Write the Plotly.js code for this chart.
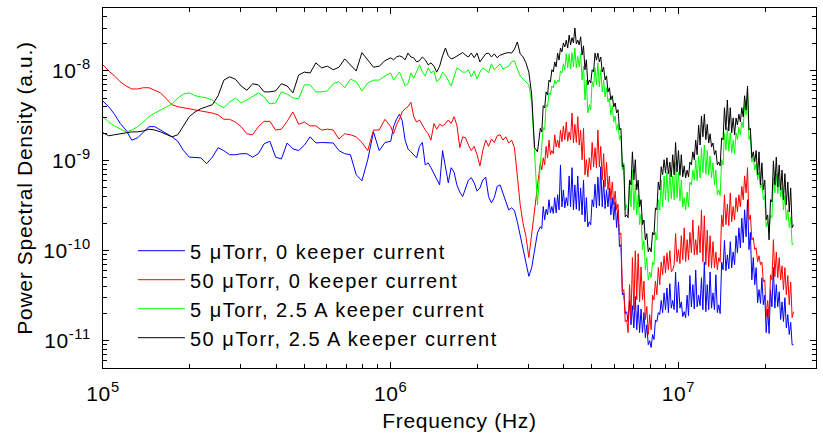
<!DOCTYPE html>
<html><head><meta charset="utf-8">
<script src="https://cdn.plot.ly/plotly-3.0.1.min.js"></script>
<style>
html,body{margin:0;padding:0;background:#fff}
#chart{width:823px;height:433px}
.legendtext{letter-spacing:1.5px}
.xtick text,.ytick text{letter-spacing:0.6px}
.xtitle,.ytitle{letter-spacing:0.7px}
</style>
</head><body><div id="chart"></div>
<script>
// Frequency (Hz)
const frequency = [
1.000e5,1.047e5,1.096e5,1.148e5,1.202e5,1.259e5,1.318e5,1.380e5,1.445e5,1.514e5,
1.585e5,1.660e5,1.738e5,1.820e5,1.905e5,1.995e5,2.089e5,2.188e5,2.291e5,2.399e5,
2.512e5,2.630e5,2.754e5,2.884e5,3.020e5,3.162e5,3.311e5,3.467e5,3.631e5,3.802e5,
3.981e5,4.169e5,4.365e5,4.571e5,4.786e5,5.012e5,5.248e5,5.495e5,5.754e5,6.026e5,
6.310e5,6.607e5,6.918e5,7.244e5,7.586e5,7.943e5,8.318e5,8.710e5,9.120e5,9.550e5,
1.000e6,1.023e6,1.047e6,1.072e6,1.096e6,1.122e6,1.148e6,1.175e6,1.202e6,1.230e6,
1.259e6,1.288e6,1.318e6,1.349e6,1.380e6,1.413e6,1.445e6,1.479e6,1.514e6,1.549e6,
1.585e6,1.622e6,1.660e6,1.698e6,1.738e6,1.778e6,1.820e6,1.862e6,1.905e6,1.950e6,
1.995e6,2.042e6,2.089e6,2.138e6,2.188e6,2.239e6,2.291e6,2.344e6,2.399e6,2.455e6,
2.512e6,2.570e6,2.630e6,2.692e6,2.754e6,2.818e6,2.884e6,2.951e6,3.020e6,3.090e6,
3.162e6,3.236e6,3.311e6,
3.350e6,3.388e6,3.428e6,3.467e6,3.508e6,3.548e6,3.589e6,3.631e6,3.673e6,3.715e6,
3.758e6,3.802e6,3.846e6,3.890e6,3.936e6,3.981e6,4.027e6,4.074e6,4.121e6,4.169e6,
4.217e6,4.266e6,4.315e6,4.365e6,4.416e6,4.467e6,4.519e6,4.571e6,4.624e6,4.677e6,
4.732e6,4.786e6,4.842e6,4.898e6,4.955e6,5.012e6,5.070e6,5.129e6,5.188e6,5.248e6,
5.309e6,5.370e6,5.433e6,5.495e6,5.559e6,5.623e6,5.689e6,5.754e6,5.821e6,5.888e6,
5.957e6,6.026e6,6.095e6,6.166e6,6.237e6,6.310e6,6.383e6,6.457e6,6.531e6,6.607e6,
6.683e6,6.761e6,6.839e6,6.918e6,6.998e6,7.079e6,7.161e6,7.244e6,7.328e6,7.413e6,
7.499e6,7.586e6,7.674e6,7.762e6,7.852e6,7.943e6,8.035e6,8.128e6,8.222e6,8.318e6,
8.414e6,8.511e6,8.610e6,8.710e6,8.810e6,8.913e6,9.016e6,9.120e6,9.226e6,9.333e6,
9.441e6,9.550e6,9.661e6,9.772e6,9.886e6,1.000e7,1.012e7,1.023e7,1.035e7,1.047e7,
1.059e7,1.072e7,1.084e7,1.096e7,1.109e7,1.122e7,1.135e7,1.148e7,1.161e7,1.175e7,
1.189e7,1.202e7,1.216e7,1.230e7,1.245e7,1.259e7,1.274e7,1.288e7,1.303e7,1.318e7,
1.334e7,1.349e7,1.365e7,1.380e7,1.396e7,1.413e7,1.429e7,1.445e7,1.462e7,1.479e7,
1.496e7,1.514e7,1.531e7,1.549e7,1.567e7,1.585e7,1.603e7,1.622e7,1.641e7,1.660e7,
1.679e7,1.698e7,1.718e7,1.738e7,1.758e7,1.778e7,1.799e7,1.820e7,1.841e7,1.862e7,
1.884e7,1.905e7,1.928e7,1.950e7,1.972e7,1.995e7,2.018e7,2.042e7,2.065e7,2.089e7,
2.113e7,2.138e7,2.163e7,2.188e7,2.213e7,2.239e7,2.265e7,2.291e7,2.317e7,2.344e7,
2.371e7,2.399e7,2.427e7,2.455e7,2.483e7,2.512e7
];

// 5 uTorr, 0 keeper current
const psd5uTorr0A = [
4.6e-9,4.0e-9,3.3e-9,2.6e-9,2.2e-9,1.7e-9,1.8e-9,2.1e-9,2.4e-9,2.4e-9,
2.2e-9,2.0e-9,1.85e-9,1.65e-9,1.3e-9,1.1e-9,1.08e-9,1.08e-9,9.3e-10,1.1e-9,
1.4e-9,1.3e-9,1.17e-9,1.17e-9,1.2e-9,1.2e-9,1.1e-9,1.2e-9,1.55e-9,1.65e-9,
1.1e-9,1.05e-9,1.58e-9,1.36e-9,1.3e-9,1.5e-9,1.85e-9,1.58e-9,1.6e-9,1.6e-9,
1.58e-9,1.3e-9,1.2e-9,1.17e-9,7.0e-10,6.0e-10,1.03e-9,2.1e-9,1.3e-9,1.6e-9,
1.65e-9,2.4e-9,2.9e-9,3.3e-9,2.8e-9,1.7e-9,1.36e-9,1.26e-9,1.17e-9,1.08e-9,
1.45e-9,1.6e-9,9.0e-10,9.5e-10,8.4e-10,7.2e-10,6.1e-10,5.4e-10,1.3e-9,9.0e-10,
5.7e-10,8.4e-10,7.5e-10,5.4e-10,4.5e-10,4.0e-10,5.1e-10,6.1e-10,6.5e-10,5.7e-10,
4.6e-10,5.0e-10,6.1e-10,6.6e-10,4.0e-10,3.4e-10,3.9e-10,5.2e-10,5.4e-10,4.4e-10,
3.4e-10,2.85e-10,3.0e-10,2.8e-10,2.1e-10,1.45e-10,1.05e-10,7.0e-11,5.2e-11,6.5e-11,
9.7e-11,1.58e-10,1.85e-10,
1.76e-10,3.1e-10,2.21e-10,2.9e-10,2.51e-10,3.7e-10,2.64e-10,3.1e-10,2.6e-10,3.9e-10,
2.64e-10,4.2e-10,2.85e-10,9.0e-10,3.08e-10,4.75e-10,3.0e-10,3.9e-10,3.15e-10,6.8e-10,
3.08e-10,8.4e-10,2.85e-10,5.4e-10,2.9e-10,6.8e-10,2.8e-10,5.0e-10,2.51e-10,6.1e-10,
2.10e-10,3.9e-10,1.85e-10,2.1e-10,1.95e-10,3.7e-10,3.08e-10,5.5e-10,3.0e-10,6.6e-10,
3.15e-10,8.6e-10,3.08e-10,6.1e-10,2.95e-10,4.75e-10,3.08e-10,5.0e-10,2.51e-10,3.9e-10,
2.21e-10,3.5e-10,1.81e-10,2.85e-10,1.11e-10,1.17e-10,3.24e-11,3.4e-11,2.0e-11,2.1e-11,
1.63e-11,2.8e-11,1.50e-11,2.45e-11,1.39e-11,3.1e-11,1.32e-11,2.5e-11,1.23e-11,2.25e-11,
1.23e-11,2.05e-11,1.08e-11,1.5e-11,9.0e-12,1.0e-11,8.4e-12,1.17e-11,1.03e-11,1.7e-11,
1.63e-11,2.05e-11,1.95e-11,2.8e-11,2.05e-11,3.4e-11,2.21e-11,3.85e-11,2.05e-11,4.3e-11,
2.3e-11,2.8e-11,2.21e-11,5.8e-11,2.05e-11,4.5e-11,2.3e-11,2.7e-11,1.85e-11,2.1e-11,
1.8e-11,3.2e-11,1.9e-11,5.3e-11,2.38e-11,4.2e-11,2.25e-11,6.1e-11,2.38e-11,3.2e-11,
2.45e-11,5.0e-11,2.21e-11,7.5e-11,2.1e-11,4.2e-11,2.21e-11,5.8e-11,2.3e-11,3.4e-11,
2.21e-11,5.4e-11,2.05e-11,2.5e-11,2.0e-11,7.5e-11,6.15e-11,1.3e-10,6.0e-11,9.0e-11,
6.3e-11,1.26e-10,6.47e-11,9.7e-11,6.99e-11,1.47e-10,9.5e-11,1.8e-10,1.08e-10,2.3e-10,
1.23e-10,2.85e-10,1.43e-10,3.7e-10,1.03e-10,1.6e-10,4.76e-11,8.4e-11,4.19e-11,6.5e-11,
2.64e-11,3.7e-11,2.6e-11,5.0e-11,2.51e-11,3.2e-11,1.23e-11,2.25e-11,1.2e-11,3.7e-11,
2.38e-11,6.5e-11,2.3e-11,4.2e-11,2.38e-11,3.5e-11,1.72e-11,2.7e-11,1.63e-11,3.0e-11,
1.39e-11,1.95e-11,1.17e-11,1.6e-11,9.0e-12,9.0e-12
];

// 50 uTorr, 0 keeper current
const psd50uTorr0A = [
1.17e-8,1.0e-8,8.8e-9,7.6e-9,6.8e-9,6.3e-9,6.3e-9,6.5e-9,6.5e-9,6.1e-9,
5.7e-9,4.9e-9,4.2e-9,4.0e-9,3.9e-9,3.8e-9,3.7e-9,3.6e-9,3.5e-9,3.4e-9,
3.25e-9,2.9e-9,2.9e-9,2.7e-9,2.4e-9,2.0e-9,1.95e-9,2.4e-9,2.75e-9,2.75e-9,
2.2e-9,2.25e-9,2.75e-9,3.5e-9,2.55e-9,2.7e-9,2.45e-9,2.45e-9,2.2e-9,2.25e-9,
2.2e-9,1.75e-9,2.0e-9,1.95e-9,1.85e-9,1.6e-9,1.3e-9,2.2e-9,2.2e-9,2.9e-9,
2.4e-9,2.0e-9,2.5e-9,2.9e-9,3.5e-9,3.8e-9,4.0e-9,4.5e-9,3.1e-9,2.7e-9,
2.85e-9,2.5e-9,2.2e-9,2.0e-9,1.7e-9,2.6e-9,2.25e-9,2.55e-9,2.45e-9,2.6e-9,
2.85e-9,2.6e-9,3.1e-9,2.5e-9,1.4e-9,1.85e-9,1.8e-9,1.5e-9,1.3e-9,1.45e-9,
1.17e-9,8.8e-10,1.3e-9,1.7e-9,1.45e-9,1.75e-9,1.6e-9,1.9e-9,1.95e-9,1.7e-9,
1.85e-9,1.58e-9,1.7e-9,1.4e-9,7.0e-10,3.25e-10,2.0e-10,1.45e-10,8.4e-11,1.6e-10,
2.7e-10,5.7e-10,9.5e-10,
7.94e-10,1.08e-9,9.03e-10,1.45e-9,1.08e-9,1.7e-9,1.17e-9,1.3e-9,1.2e-9,1.95e-9,
1.43e-9,1.7e-9,1.4e-9,2.2e-9,1.63e-9,2.45e-9,1.72e-9,2.7e-9,1.65e-9,2.1e-9,
1.72e-9,3.4e-9,1.58e-9,2.55e-9,1.6e-9,3.1e-9,1.50e-9,2.2e-9,1.03e-9,2.3e-9,
6.99e-10,1.03e-9,6.64e-10,1.08e-9,7.94e-10,1.6e-9,8.58e-10,1.4e-9,8.3e-10,2.2e-9,
8.58e-10,1.45e-9,6.15e-10,1.2e-9,5.14e-10,9.7e-10,4.76e-10,6.8e-10,3.69e-10,5.8e-10,
3.24e-10,4.6e-10,2.85e-10,3.3e-10,1.50e-10,1.58e-10,3.50e-11,3.7e-11,1.63e-11,1.7e-11,
1.23e-11,4.2e-11,1.72e-11,8.4e-11,2.21e-11,1.0e-10,2.85e-11,9.3e-11,2.7e-11,6.6e-11,
2.85e-11,4.6e-11,1.72e-11,2.4e-11,1.17e-11,1.95e-11,1.32e-11,3.2e-11,2.85e-11,4.6e-11,
3.24e-11,6.5e-11,4.19e-11,7.5e-11,5.41e-11,8.8e-11,5.70e-11,9.5e-11,6.15e-11,1.0e-10,
5.84e-11,6.1e-11,6.99e-11,1.55e-10,7.54e-11,1.03e-10,7.2e-11,1.47e-10,7.94e-11,1.8e-10,
7.6e-11,1.33e-10,7.94e-11,1.6e-10,9.5e-11,2.2e-10,9.0e-11,1.33e-10,9.03e-11,1.9e-10,
9.5e-11,2.85e-10,7.54e-11,2.45e-10,6.99e-11,1.7e-10,6.64e-11,1.47e-10,6.4e-11,1.26e-10,
6.47e-11,9.7e-11,6.15e-11,8.4e-11,7.54e-11,2.5e-10,1.85e-10,4.2e-10,1.95e-10,3.3e-10,
1.9e-10,4.4e-10,2.10e-10,3.1e-10,2.21e-10,3.9e-10,2.71e-10,4.2e-10,3.08e-10,5.2e-10,
3.69e-10,6.8e-10,4.41e-10,8.4e-10,2.21e-10,2.5e-10,1.32e-10,1.4e-10,1.03e-10,1.08e-10,
7.54e-11,8.8e-11,6.99e-11,7.5e-11,4.52e-11,4.75e-11,1.85e-11,2.8e-11,1.8e-11,5.4e-11,
4.76e-11,1.33e-10,5.14e-11,9.7e-11,5.0e-11,8.4e-11,4.76e-11,6.8e-11,3.69e-11,6.5e-11,
3.24e-11,5.3e-11,2.51e-11,4.5e-11,1.81e-11,2.1e-11
];

// 5 uTorr, 2.5 A keeper current
const psd5uTorr25A = [
3.1e-9,2.7e-9,2.45e-9,2.25e-9,2.1e-9,2.2e-9,2.4e-9,2.7e-9,3.1e-9,3.4e-9,
3.7e-9,4.0e-9,4.3e-9,5.0e-9,5.55e-9,5.7e-9,5.3e-9,5.15e-9,5.0e-9,4.75e-9,
4.2e-9,3.9e-9,4.5e-9,5.0e-9,4.4e-9,4.75e-9,5.15e-9,5.7e-9,5.15e-9,4.3e-9,
4.4e-9,5.85e-9,5.55e-9,5.0e-9,4.9e-9,7.0e-9,7.0e-9,5.85e-9,5.85e-9,6.0e-9,
7.2e-9,7.6e-9,6.5e-9,8.1e-9,7.6e-9,6.0e-9,7.35e-9,7.9e-9,7.9e-9,8.8e-9,
9.5e-9,7.9e-9,8.8e-9,9.7e-9,8.3e-9,6.8e-9,7.2e-9,9.5e-9,8.3e-9,9.7e-9,
1.17e-8,9.7e-9,8.8e-9,1.08e-8,9.5e-9,1.0e-8,7.6e-9,8.1e-9,9.7e-9,9.0e-9,
7.7e-9,6.8e-9,8.6e-9,1.08e-8,1.03e-8,9.7e-9,9.7e-9,1.03e-8,8.6e-9,1.0e-8,
8.1e-9,9.7e-9,1.08e-8,1.03e-8,9.5e-9,1.2e-8,1.03e-8,1.1e-8,1.2e-8,1.05e-8,
1.08e-8,1.13e-8,1.26e-8,1.3e-8,1.05e-8,8.8e-9,8.1e-9,7.6e-9,7.0e-9,4.5e-9,
1.17e-9,3.25e-10,9.0e-10,
1.5e-9,2.35e-9,2.21e-9,4.2e-9,3.98e-9,5.7e-9,5.41e-9,6.8e-9,6.47e-9,7.9e-9,
7.17e-9,7.9e-9,7.54e-9,1.0e-8,9.5e-9,1.2e-8,1.03e-8,1.55e-8,1.08e-8,1.55e-8,
1.05e-8,1.6e-8,1.11e-8,1.8e-8,1.08e-8,1.45e-8,1.11e-8,1.55e-8,7.94e-9,1.13e-8,
4.76e-9,7.9e-9,3.41e-9,4.2e-9,3.69e-9,7.6e-9,6.64e-9,1.08e-8,6.99e-9,1.23e-8,
6.64e-9,1.03e-8,5.84e-9,7.9e-9,5.14e-9,6.5e-9,4.52e-9,5.0e-9,3.24e-9,4.1e-9,
2.71e-9,3.15e-9,2.21e-9,2.55e-9,1.72e-9,1.9e-9,7.94e-10,9.5e-10,2.85e-10,3.25e-10,
2.51e-10,5.8e-10,3.08e-10,7.9e-10,2.85e-10,5.5e-10,2.51e-10,4.2e-10,1.95e-10,2.55e-10,
1.03e-10,1.3e-10,6.15e-11,8.4e-11,4.76e-11,5.8e-11,5.01e-11,7.5e-11,6.99e-11,1.6e-10,
1.32e-10,3.7e-10,2.85e-10,6.1e-10,3.08e-10,6.8e-10,3.69e-10,7.5e-10,3.5e-10,7.9e-10,
3.8e-10,6.8e-10,3.69e-10,9.7e-10,3.88e-10,7.5e-10,3.6e-10,6.1e-10,3.08e-10,3.9e-10,
2.85e-10,4.5e-10,3.08e-10,5.8e-10,5.41e-10,7.9e-10,6.15e-10,1.03e-9,6.0e-10,1.13e-9,
6.47e-10,1.4e-9,7.36e-10,1.5e-9,7.1e-10,1.3e-9,6.99e-10,1.13e-9,6.47e-10,9.5e-10,
5.41e-10,7.9e-10,4.19e-10,4.75e-10,4.1e-10,1.03e-9,9.03e-10,2.05e-9,1.32e-9,2.35e-9,
1.28e-9,2.05e-9,1.23e-9,1.7e-9,1.2e-9,2.05e-9,1.72e-9,2.35e-9,1.95e-9,2.7e-9,
2.33e-9,4.3e-9,3.24e-9,5.85e-9,1.72e-9,1.95e-9,9.75e-10,1.08e-9,7.94e-10,9.3e-10,
6.15e-10,7.5e-10,5.01e-10,5.65e-10,3.69e-10,4.1e-10,1.85e-10,2.1e-10,1.72e-10,2.5e-10,
2.33e-10,6.5e-10,4.41e-10,7.2e-10,4.3e-10,6.3e-10,3.98e-10,5.15e-10,2.85e-10,4.1e-10,
2.21e-10,2.85e-10,1.81e-10,2.35e-10,1.17e-10,1.2e-10
];

// 50 uTorr, 2.5 A keeper current
const psd50uTorr25A = [
2.05e-9,1.9e-9,1.95e-9,2.0e-9,2.05e-9,2.1e-9,2.1e-9,2.15e-9,2.25e-9,2.2e-9,
2.1e-9,1.95e-9,1.85e-9,1.95e-9,2.45e-9,3.1e-9,3.5e-9,3.8e-9,4.0e-9,4.2e-9,
5.3e-9,7.9e-9,8.6e-9,8.1e-9,6.8e-9,6.1e-9,7.2e-9,7.0e-9,5.85e-9,5.85e-9,
6.0e-9,7.2e-9,6.8e-9,5.7e-9,9.0e-9,9.7e-9,9.5e-9,1.23e-8,1.08e-8,1.13e-8,
1.03e-8,1.1e-8,1.36e-8,1.17e-8,1.0e-8,1.6e-8,1.33e-8,1.1e-8,1.13e-8,1.3e-8,
1.4e-8,1.33e-8,1.43e-8,1.47e-8,1.43e-8,1.33e-8,1.58e-8,1.43e-8,1.4e-8,1.26e-8,
1.3e-8,1.43e-8,1.33e-8,1.17e-8,1.23e-8,1.13e-8,9.7e-9,1.13e-8,1.47e-8,1.8e-8,
1.47e-8,1.36e-8,1.4e-8,1.47e-8,1.55e-8,1.6e-8,1.5e-8,1.43e-8,1.58e-8,1.4e-8,
1.58e-8,1.26e-8,1.4e-8,1.55e-8,1.58e-8,1.43e-8,1.55e-8,1.4e-8,1.5e-8,1.55e-8,
1.58e-8,1.6e-8,1.58e-8,1.75e-8,2.1e-8,1.55e-8,1.43e-8,1.23e-8,9.7e-9,5.4e-9,
1.4e-9,1.26e-9,2.3e-9,
2.10e-9,4.1e-9,3.88e-9,5.85e-9,5.41e-9,7.9e-9,7.54e-9,1.03e-8,9.75e-9,1.26e-8,
1.11e-8,1.58e-8,1.32e-8,1.8e-8,1.63e-8,2.05e-8,1.85e-8,2.2e-8,1.8e-8,2.5e-8,
1.95e-8,2.35e-8,2.05e-8,3.0e-8,2.0e-8,2.2e-8,1.95e-8,2.4e-8,1.50e-8,1.9e-8,
1.03e-8,1.33e-8,6.99e-9,7.9e-9,7.36e-9,1.03e-8,9.75e-9,1.58e-8,1.32e-8,1.58e-8,
1.26e-8,1.43e-8,9.75e-9,1.1e-8,7.94e-9,8.8e-9,5.84e-9,6.5e-9,4.76e-9,5.3e-9,
3.98e-9,4.4e-9,3.41e-9,3.7e-9,2.21e-9,2.3e-9,8.58e-10,9.0e-10,2.38e-10,2.5e-10,
2.33e-10,6.1e-10,5.41e-10,1.26e-9,6.15e-10,1.03e-9,4.76e-10,6.1e-10,3.08e-10,3.7e-10,
1.95e-10,2.2e-10,1.32e-10,1.55e-10,9.75e-11,1.08e-10,9.75e-11,1.6e-10,1.50e-10,3.0e-10,
2.85e-10,5.8e-10,4.76e-10,8.6e-10,6.99e-10,1.03e-9,7.36e-10,1.08e-9,7.2e-10,9.7e-10,
6.64e-10,1.17e-9,6.99e-10,1.6e-9,7.54e-10,1.3e-9,6.9e-10,1.17e-9,6.64e-10,8.8e-10,
6.47e-10,7.9e-10,6.64e-10,9.7e-10,9.03e-10,1.26e-9,1.03e-9,1.7e-9,1.17e-9,2.5e-9,
1.50e-9,3.15e-9,1.85e-9,3.3e-9,1.72e-9,2.55e-9,1.58e-9,2.0e-9,1.43e-9,1.58e-9,
1.17e-9,1.3e-9,9.03e-10,9.7e-10,8.8e-10,1.8e-9,1.72e-9,3.9e-9,2.21e-9,4.75e-9,
2.15e-9,3.9e-9,2.05e-9,3.0e-9,1.95e-9,3.0e-9,2.51e-9,3.3e-9,2.71e-9,3.9e-9,
3.08e-9,5.3e-9,3.69e-9,6.8e-9,2.21e-9,2.3e-9,1.08e-9,1.26e-9,9.75e-10,1.3e-9,
6.99e-10,1.26e-9,5.41e-10,9.5e-10,4.76e-10,6.1e-10,2.21e-10,2.5e-10,1.32e-10,3.7e-10,
3.50e-10,1.0e-9,5.41e-10,1.1e-9,5.14e-10,9.0e-10,4.76e-10,7.9e-10,3.69e-10,7.2e-10,
3.24e-10,5.8e-10,2.71e-10,5.0e-10,1.81e-10,1.95e-10
];

const seriesNames = [
  '5 \u03bcTorr, 0 keeper current',
  '50 \u03bcTorr, 0 keeper current',
  '5 \u03bcTorr, 2.5 A keeper current',
  '50 \u03bcTorr, 2.5 A keeper current'
];
const seriesColors = ['#0000ff', '#ff0000', '#00ff00', '#000000'];

const xTickVals = [1e5, 1e6, 1e7];
const xTickText = ['10<sup>5</sup>', '10<sup>6</sup>', '10<sup>7</sup>'];
const yTickVals = [1e-11, 1e-10, 1e-9, 1e-8];
const yTickText = ['10<sup>-11</sup>', '10<sup>-10</sup>', '10<sup>-9</sup>', '10<sup>-8</sup>'];

function minorTicks(e0, e1) {
  const out = [];
  for (let e = e0; e <= e1; e++) {
    for (let m = 2; m <= 9; m++) out.push(m * Math.pow(10, e));
  }
  return out;
}

const seriesData = [psd5uTorr0A, psd50uTorr0A, psd5uTorr25A, psd50uTorr25A];
const traces = seriesData.map((y, i) => ({
  x: frequency, y: y, type: 'scatter', mode: 'lines',
  name: seriesNames[i],
  line: {color: seriesColors[i], width: 1}
}));

const font = 'Liberation Sans, Arial, Helvetica, sans-serif';
const axisCommon = {
  type: 'log', tickmode: 'array', ticks: 'inside', ticklen: 6, tickwidth: 1,
  tickcolor: '#000', showline: true, linecolor: '#000', linewidth: 1,
  mirror: 'allticks', showgrid: false, zeroline: false,
  tickfont: {family: font, size: 21, color: '#000'}
};

const layout = {
  width: 823, height: 433,
  margin: {l: 103, r: 7, t: 8, b: 65},
  paper_bgcolor: '#ffffff', plot_bgcolor: '#ffffff',
  font: {family: font, size: 21, color: '#000'},
  showlegend: true,
  legend: {x: 0.042, y: 0.38, xanchor: 'left', yanchor: 'top',
           bgcolor: 'rgba(0,0,0,0)', borderwidth: 0,
           font: {family: font, size: 20, color: '#000'}, itemwidth: 47},
  xaxis: Object.assign({}, axisCommon, {
    range: [5, 7.478], tickvals: xTickVals, ticktext: xTickText, ticklabelstandoff: 7,
    minor: {tickmode: 'array', tickvals: minorTicks(5, 7), ticks: 'inside', ticklen: 4, tickcolor: '#000', showgrid: false},
    title: {text: 'Frequency (Hz)', font: {family: font, size: 21, color: '#000'}, standoff: 9}
  }),
  yaxis: Object.assign({}, axisCommon, {
    range: [-11.304, -7.3], tickvals: yTickVals, ticktext: yTickText, ticklabelstandoff: 7,
    minor: {tickmode: 'array', tickvals: minorTicks(-12, -8), ticks: 'inside', ticklen: 4, tickcolor: '#000', showgrid: false},
    title: {text: 'Power Spectral Density (a.u.)', font: {family: font, size: 21, color: '#000'}, standoff: 4}
  })
};

Plotly.newPlot('chart', traces, layout, {displayModeBar: false, staticPlot: true});
</script>
</body></html>
